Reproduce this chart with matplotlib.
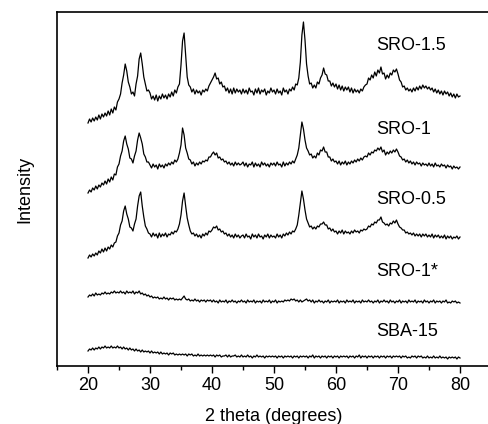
import numpy as np
import matplotlib as mpl
mpl.use("Agg")
import matplotlib.pyplot as plt
from matplotlib.ticker import MultipleLocator

mpl.rcParams["font.family"] = ["Liberation Sans", "DejaVu Sans"]

# 2 theta scan grid, 0.25 deg steps from 20 to 80
two_theta = np.arange(20, 80.001, 0.25)

# intensities (a.u.), one row = 5 degrees
sro_15 = [
    2, 6, 3, 7, 4, 8, 5, 10, 6, 11, 8, 12, 9, 14, 10, 16, 12, 18, 15, 23,
    26, 31, 42, 50, 61, 54, 43, 38, 31, 33, 29, 41, 49, 66, 72, 61, 48, 41, 34, 35,
    32, 26, 29, 25, 30, 24, 29, 26, 31, 27, 30, 26, 31, 28, 33, 29, 35, 32, 38, 41,
    60, 84, 92, 70, 48, 40, 38, 33, 36, 31, 35, 32, 34, 30, 35, 33, 36, 34, 39, 42,
    45, 48, 52, 46, 47, 41, 43, 38, 39, 34, 37, 32, 36, 31, 37, 32, 36, 33, 35, 31,
    36, 32, 35, 31, 37, 33, 34, 30, 36, 32, 37, 31, 35, 33, 36, 30, 34, 32, 37, 33,
    35, 31, 36, 32, 34, 30, 37, 33, 35, 31, 36, 34, 38, 35, 41, 40, 47, 63, 90, 103,
    85, 61, 49, 41, 42, 37, 40, 37, 43, 41, 47, 50, 57, 51, 50, 44, 44, 39, 42, 38,
    41, 36, 40, 35, 39, 34, 38, 35, 38, 33, 37, 32, 36, 33, 35, 32, 36, 34, 38, 40,
    41, 47, 45, 50, 47, 53, 49, 55, 52, 58, 51, 52, 46, 50, 47, 52, 50, 55, 53, 56,
    51, 45, 43, 38, 39, 35, 37, 34, 36, 33, 37, 34, 38, 35, 39, 36, 40, 37, 39, 36,
    38, 35, 37, 33, 36, 32, 35, 31, 34, 30, 34, 31, 33, 29, 32, 28, 31, 27, 31, 28,
    29,
]
sro_1 = [
    2, 5, 3, 7, 5, 9, 6, 10, 8, 12, 10, 14, 11, 16, 13, 18, 15, 21, 20, 28,
    31, 39, 44, 54, 59, 51, 46, 37, 36, 32, 39, 44, 55, 62, 57, 51, 41, 38, 33, 33,
    30, 27, 31, 28, 30, 26, 31, 28, 30, 27, 31, 29, 32, 30, 33, 31, 35, 33, 36, 42,
    50, 67, 60, 47, 42, 36, 35, 31, 33, 29, 32, 30, 33, 31, 34, 33, 35, 34, 38, 38,
    41, 43, 40, 42, 37, 38, 35, 36, 33, 34, 31, 33, 30, 32, 29, 33, 30, 32, 30, 31,
    33, 29, 32, 28, 31, 30, 33, 28, 32, 29, 31, 28, 33, 30, 32, 29, 31, 28, 32, 30,
    32, 29, 33, 30, 31, 28, 33, 29, 32, 30, 33, 31, 34, 32, 36, 40, 47, 60, 73, 66,
    55, 47, 44, 40, 41, 37, 39, 37, 42, 40, 45, 44, 48, 43, 43, 38, 38, 34, 36, 33,
    34, 31, 34, 30, 33, 31, 34, 30, 33, 31, 34, 32, 35, 33, 36, 34, 37, 35, 38, 39,
    38, 42, 40, 43, 42, 45, 44, 47, 45, 48, 43, 45, 40, 43, 41, 44, 42, 45, 43, 46,
    43, 39, 38, 35, 36, 33, 35, 32, 34, 31, 33, 30, 33, 31, 32, 29, 32, 30, 31, 29,
    32, 29, 31, 28, 32, 29, 30, 28, 31, 29, 30, 27, 30, 28, 29, 26, 29, 27, 28, 26,
    28,
]
sro_05 = [
    2, 5, 3, 6, 4, 7, 5, 9, 7, 11, 8, 12, 9, 13, 11, 15, 13, 17, 18, 24,
    27, 35, 39, 49, 54, 46, 41, 33, 32, 29, 36, 41, 54, 64, 68, 54, 43, 34, 31, 27,
    26, 23, 27, 24, 26, 22, 27, 23, 26, 24, 27, 23, 26, 25, 28, 26, 29, 28, 31, 36,
    45, 59, 67, 54, 42, 35, 29, 26, 27, 24, 26, 23, 25, 22, 26, 24, 27, 25, 29, 28,
    30, 33, 32, 34, 30, 31, 28, 29, 26, 27, 24, 26, 23, 25, 22, 26, 23, 25, 22, 24,
    25, 22, 26, 23, 24, 21, 26, 23, 25, 22, 26, 23, 24, 21, 25, 23, 26, 22, 25, 23,
    24, 22, 26, 23, 25, 22, 26, 24, 27, 25, 28, 26, 29, 28, 31, 35, 45, 57, 69, 61,
    50, 41, 37, 33, 34, 31, 33, 31, 34, 33, 36, 36, 38, 35, 35, 31, 32, 29, 31, 28,
    29, 26, 29, 27, 30, 26, 29, 27, 28, 26, 29, 27, 30, 28, 29, 27, 30, 29, 31, 30,
    31, 34, 33, 36, 35, 38, 37, 40, 40, 43, 38, 37, 35, 36, 34, 37, 36, 39, 37, 40,
    36, 33, 32, 30, 30, 27, 28, 26, 27, 25, 27, 24, 26, 24, 26, 23, 26, 24, 26, 23,
    25, 23, 26, 22, 25, 23, 25, 22, 24, 22, 25, 21, 24, 22, 24, 21, 23, 22, 24, 21,
    23,
]
sro_1_star = [
    8, 10, 9, 11, 9, 12, 10, 11, 10, 12, 11, 13, 11, 12, 11, 13, 12, 14, 12, 13,
    12, 14, 12, 13, 11, 14, 12, 13, 12, 14, 11, 13, 12, 14, 11, 12, 10, 11, 9, 10,
    8, 9, 7, 8, 7, 8, 6, 7, 6, 8, 6, 7, 5, 7, 6, 7, 5, 6, 5, 6,
    5, 7, 9, 6, 5, 6, 4, 5, 4, 6, 4, 5, 3, 5, 4, 5, 3, 5, 4, 5,
    3, 5, 3, 4, 2, 5, 3, 4, 3, 5, 2, 4, 3, 5, 3, 4, 2, 4, 3, 5,
    3, 4, 2, 5, 3, 4, 3, 5, 2, 4, 3, 4, 2, 5, 3, 4, 3, 5, 2, 4,
    3, 5, 2, 4, 3, 4, 3, 5, 4, 5, 4, 6, 5, 6, 4, 5, 3, 5, 3, 4,
    5, 6, 4, 5, 3, 5, 2, 4, 3, 5, 3, 4, 2, 4, 3, 5, 2, 4, 3, 4,
    3, 5, 2, 4, 3, 4, 2, 5, 3, 4, 3, 5, 2, 4, 3, 4, 2, 5, 3, 4,
    3, 5, 3, 4, 2, 4, 3, 5, 2, 4, 3, 5, 3, 4, 2, 5, 3, 4, 2, 4,
    3, 5, 2, 4, 3, 4, 2, 5, 3, 4, 3, 5, 2, 4, 3, 4, 2, 5, 3, 4,
    2, 4, 3, 5, 2, 4, 3, 4, 2, 4, 3, 5, 2, 3, 2, 4, 3, 4, 2, 3,
    2,
]
sba_15 = [
    9, 11, 10, 12, 10, 12, 11, 13, 11, 13, 12, 14, 12, 13, 12, 14, 12, 13, 12, 14,
    12, 13, 11, 13, 11, 12, 10, 12, 10, 11, 9, 11, 9, 10, 8, 10, 8, 9, 8, 9,
    7, 9, 7, 8, 7, 8, 6, 8, 6, 7, 6, 7, 5, 7, 6, 7, 5, 6, 5, 6,
    5, 6, 5, 6, 4, 6, 5, 6, 4, 5, 4, 6, 4, 5, 4, 5, 4, 5, 4, 5,
    4, 5, 3, 5, 4, 5, 3, 4, 4, 5, 3, 5, 3, 4, 4, 5, 3, 4, 3, 5,
    3, 4, 3, 5, 3, 4, 2, 4, 3, 5, 3, 4, 3, 4, 2, 4, 3, 4, 3, 4,
    3, 4, 2, 4, 3, 4, 2, 4, 3, 4, 3, 4, 2, 4, 3, 4, 2, 4, 3, 4,
    3, 4, 2, 4, 3, 5, 2, 4, 3, 4, 2, 4, 3, 4, 2, 4, 3, 4, 2, 4,
    3, 4, 2, 4, 3, 4, 3, 4, 2, 4, 3, 4, 2, 4, 3, 5, 2, 4, 3, 4,
    2, 4, 3, 4, 2, 4, 3, 4, 2, 4, 3, 4, 2, 4, 3, 4, 2, 4, 3, 4,
    3, 4, 2, 4, 3, 4, 2, 3, 2, 4, 3, 4, 2, 4, 3, 4, 2, 3, 2, 4,
    2, 3, 2, 4, 2, 3, 2, 4, 2, 3, 2, 3, 1, 3, 2, 3, 2, 3, 1, 3,
    2,
]

samples = ["SRO-1.5", "SRO-1", "SRO-0.5", "SRO-1*", "SBA-15"]
patterns = [sro_15, sro_1, sro_05, sro_1_star, sba_15]
# vertical stacking of the patterns
offsets = [241, 171, 106, 61, 6]
label_y = [321, 236, 166, 94, 34]


def plot_xrd():
    fig = plt.figure(figsize=(4.88, 4.24), dpi=100)
    ax = fig.add_axes([57 / 488, 58 / 424, 434 / 488, 354 / 424])

    for name, y, off, ly in zip(samples, patterns, offsets, label_y):
        ax.plot(two_theta, np.array(y) + off, color="black", lw=0.9)
        ax.text(66.5, ly, name, fontsize=13, ha="left", va="center")

    ax.set_xlim(15, 85)
    ax.set_ylim(0, 354)
    ax.xaxis.set_major_locator(MultipleLocator(10))
    ax.xaxis.set_minor_locator(MultipleLocator(5))
    ax.set_xticks([20, 30, 40, 50, 60, 70, 80])
    ax.set_yticks([])
    ax.tick_params(axis="x", which="major", length=5, width=1, labelsize=13, pad=3)
    ax.tick_params(axis="x", which="minor", length=3, width=1)
    for s in ["top", "left", "bottom"]:
        ax.spines[s].set_linewidth(1.2)
    ax.spines["right"].set_visible(False)

    ax.set_xlabel("2 theta (degrees)", fontsize=13)
    ax.xaxis.set_label_coords(0.5, -0.118)
    ax.set_ylabel("Intensity", fontsize=13)
    ax.yaxis.set_label_coords(-0.055, 0.5)

    fig.savefig("out.png", dpi=100)


if __name__ == "__main__":
    plot_xrd()
